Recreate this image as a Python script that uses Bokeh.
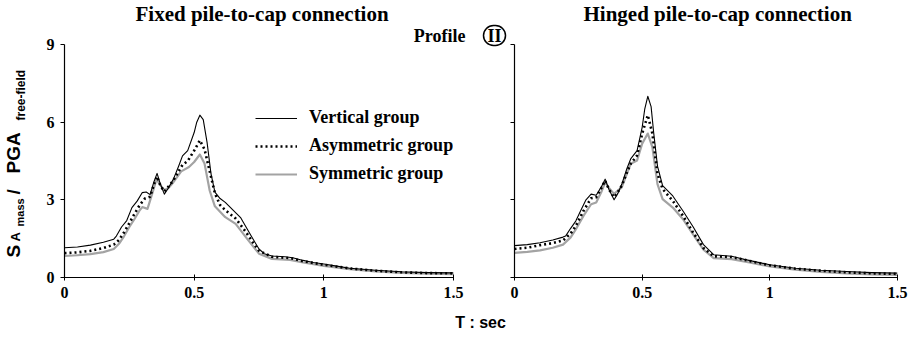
from math import pi

from bokeh.embed import file_html
from bokeh.layouts import column, row
from bokeh.models import ColumnDataSource, FixedTicker, Label, Legend, LegendItem, Range1d, Title
from bokeh.plotting import figure
from bokeh.resources import INLINE

# ---------------------------------------------------------------- data
# Period T (s) and S_A(mass) / PGA(free-field)

# Fixed pile-to-cap connection
fixed_vert_T = [0, 0.05, 0.1, 0.15, 0.19, 0.2, 0.22, 0.24, 0.26, 0.28, 0.3, 0.315, 0.33, 0.345, 0.357,
                0.37, 0.385, 0.4, 0.42, 0.44, 0.455, 0.475, 0.5, 0.51, 0.522, 0.535, 0.55, 0.565, 0.58,
                0.6, 0.62, 0.65, 0.68, 0.7, 0.72, 0.75, 0.77, 0.8, 0.85, 0.88, 0.92, 0.96, 1.0, 1.05,
                1.1, 1.2, 1.3, 1.4, 1.5]
fixed_vert_SA = [1.15, 1.18, 1.25, 1.36, 1.48, 1.6, 1.95, 2.2, 2.7, 2.95, 3.28, 3.3, 3.2, 3.7, 4.02,
                 3.6, 3.22, 3.45, 3.8, 4.3, 4.7, 4.9, 5.6, 6.0, 6.27, 6.1, 5.2, 4.0, 3.3,
                 3.05, 2.9, 2.6, 2.3, 1.95, 1.6, 1.1, 0.92, 0.83, 0.8, 0.76, 0.66, 0.58, 0.52, 0.44,
                 0.36, 0.28, 0.22, 0.19, 0.18]

fixed_asym_T = [0, 0.05, 0.1, 0.15, 0.19, 0.21, 0.23, 0.25, 0.27, 0.29, 0.31, 0.33, 0.345, 0.357,
                0.37, 0.385, 0.4, 0.42, 0.44, 0.455, 0.475, 0.5, 0.522, 0.54, 0.56, 0.58, 0.6, 0.62,
                0.66, 0.7, 0.73, 0.75, 0.8, 0.87, 0.92, 1.0, 1.1, 1.2, 1.3, 1.4, 1.5]
fixed_asym_SA = [0.94, 0.97, 1.03, 1.14, 1.27, 1.45, 1.75, 2.1, 2.46, 2.8, 3.05, 3.12, 3.6, 3.9,
                 3.55, 3.32, 3.5, 3.75, 4.1, 4.35, 4.5, 4.9, 5.3, 4.95, 4.1, 3.25, 2.8, 2.6,
                 2.28, 1.75, 1.3, 1.03, 0.8, 0.75, 0.63, 0.49, 0.35, 0.26, 0.2, 0.17, 0.16]

fixed_sym_T = [0, 0.05, 0.1, 0.15, 0.19, 0.21, 0.23, 0.25, 0.27, 0.29, 0.3, 0.32, 0.34, 0.355,
               0.37, 0.385, 0.4, 0.42, 0.45, 0.48, 0.5, 0.522, 0.54, 0.56, 0.58, 0.62, 0.66, 0.7,
               0.75, 0.8, 0.87, 0.92, 1.0, 1.1, 1.2, 1.3, 1.4, 1.5]
fixed_sym_SA = [0.83, 0.86, 0.9, 0.98, 1.1, 1.3, 1.6, 1.95, 2.26, 2.6, 2.72, 2.65, 3.3, 3.8,
                3.56, 3.38, 3.45, 3.68, 4.1, 4.27, 4.46, 4.75, 4.4, 3.35, 2.75, 2.33, 2.07, 1.55,
                0.92, 0.72, 0.68, 0.58, 0.45, 0.32, 0.24, 0.18, 0.15, 0.13]

# Hinged pile-to-cap connection
hinged_vert_T = [0, 0.05, 0.1, 0.15, 0.19, 0.2, 0.22, 0.24, 0.26, 0.28, 0.3, 0.32, 0.34, 0.355,
                 0.37, 0.39, 0.405, 0.42, 0.44, 0.455, 0.48, 0.5, 0.51, 0.522, 0.535, 0.545, 0.56,
                 0.58, 0.62, 0.66, 0.7, 0.74, 0.78, 0.85, 0.9, 1.0, 1.1, 1.2, 1.3, 1.4, 1.5]
hinged_vert_SA = [1.23, 1.27, 1.34, 1.45, 1.56, 1.6, 1.9, 2.18, 2.6, 3.0, 3.22, 3.18, 3.5, 3.8,
                  3.4, 3.0, 3.25, 3.6, 4.2, 4.58, 4.9, 5.8, 6.5, 7.0, 6.6, 5.6, 4.3,
                  3.55, 3.15, 2.57, 1.95, 1.27, 0.88, 0.82, 0.7, 0.49, 0.36, 0.28, 0.23, 0.19, 0.17]

hinged_asym_T = [0, 0.05, 0.1, 0.15, 0.19, 0.22, 0.24, 0.27, 0.3, 0.32, 0.34, 0.355, 0.37, 0.39,
                 0.405, 0.42, 0.44, 0.455, 0.48, 0.5, 0.522, 0.54, 0.56, 0.58, 0.62, 0.66, 0.7,
                 0.74, 0.78, 0.85, 0.92, 1.0, 1.1, 1.2, 1.3, 1.4, 1.5]
hinged_asym_SA = [1.1, 1.15, 1.25, 1.33, 1.43, 1.7, 1.99, 2.57, 3.06, 3.1, 3.45, 3.74, 3.4, 3.1,
                  3.3, 3.55, 4.05, 4.39, 4.71, 5.56, 6.27, 5.56, 4.0, 3.42, 2.96, 2.38, 1.73,
                  1.14, 0.82, 0.79, 0.64, 0.47, 0.34, 0.26, 0.2, 0.16, 0.14]

hinged_sym_T = [0, 0.05, 0.1, 0.15, 0.19, 0.22, 0.24, 0.27, 0.3, 0.32, 0.34, 0.355, 0.37, 0.39,
                0.42, 0.44, 0.455, 0.48, 0.5, 0.522, 0.54, 0.56, 0.58, 0.62, 0.66, 0.7, 0.74,
                0.78, 0.85, 0.92, 1.0, 1.1, 1.2, 1.3, 1.4, 1.5]
hinged_sym_SA = [0.95, 0.99, 1.05, 1.15, 1.27, 1.55, 1.86, 2.38, 2.83, 2.9, 3.3, 3.68, 3.46, 3.23,
                 3.48, 4.0, 4.39, 4.52, 5.17, 5.56, 5.04, 3.61, 3.03, 2.7, 2.25, 1.66, 1.08,
                 0.75, 0.71, 0.58, 0.43, 0.3, 0.22, 0.16, 0.12, 0.1]

series_names = ["Vertical group", "Asymmetric group", "Symmetric group"]
x_ticks = [0, 0.5, 1, 1.5]
x_tick_labels = ["0", "0.5", "1", "1.5"]
y_ticks = [0, 3, 6, 9]
y_tick_labels = ["0", "3", "6", "9"]
panel_titles = ["Fixed pile-to-cap connection", "Hinged pile-to-cap connection"]

# ---------------------------------------------------------------- styling
SERIF = "Liberation Serif"
SANS = "Liberation Sans"
STYLES = {
    "Vertical group": dict(line_color="black", line_width=1.1),
    "Asymmetric group": dict(line_color="black", line_width=2.6, line_dash="2 3"),
    "Symmetric group": dict(line_color="#a3a3a3", line_width=2.2),
}
PANEL_H = 305      # panels + tick labels; the x-axis title strip sits below
STRIP_W = 34       # strip holding the rotated y-axis title
SPLIT = 474        # x where the left panel canvas ends and the right one begins
FRAME_BOTTOM = 277 # page y of the value 0 on both panels


def blank_strip(width, height):
    s = figure(width=width, height=height, x_range=Range1d(0, 1), y_range=Range1d(0, 1),
               x_axis_type=None, y_axis_type=None, title_location=None,
               output_backend="svg", toolbar_location=None,
               min_border=0, min_border_left=0, min_border_right=0,
               min_border_top=0, min_border_bottom=0)
    s.outline_line_color = None
    s.grid.visible = False
    return s


def make_panel(width, border_left, border_right, show_y_labels):
    p = figure(width=width, height=PANEL_H, x_range=Range1d(0, 1.5), y_range=Range1d(0, 9),
               output_backend="svg", toolbar_location=None, title_location=None,
               min_border_left=border_left, min_border_right=border_right,
               min_border_top=44, min_border_bottom=PANEL_H - FRAME_BOTTOM)
    p.outline_line_color = None
    p.grid.visible = False

    xa, ya = p.xaxis[0], p.yaxis[0]
    xa.ticker = FixedTicker(ticks=x_ticks)
    xa.major_label_overrides = {t: s for t, s in zip(x_ticks, x_tick_labels)}
    ya.ticker = FixedTicker(ticks=y_ticks)
    if show_y_labels:
        ya.major_label_overrides = {t: s for t, s in zip(y_ticks, y_tick_labels)}
    else:
        ya.major_label_overrides = {t: "" for t in y_ticks}
    for ax in (xa, ya):
        ax.axis_line_color = "black"
        ax.axis_line_width = 1.2
        ax.major_tick_line_color = "black"
        ax.minor_tick_line_color = None
        ax.major_label_text_font = SERIF
        ax.major_label_text_font_style = "bold"
        ax.major_label_text_font_size = "16px"
        ax.major_label_text_color = "black"
    xa.major_tick_in = 3
    xa.major_tick_out = 3
    xa.major_label_standoff = 6
    ya.major_tick_in = 0
    ya.major_tick_out = 4
    ya.major_label_standoff = 6
    return p


def add_curves(p, data):
    rends = {}
    # grey first so the black curves sit on top
    for name in ["Symmetric group", "Asymmetric group", "Vertical group"]:
        T, SA = data[name]
        src = ColumnDataSource(dict(T=T, SA=SA))
        rends[name] = p.line("T", "SA", source=src, line_join="round", **STYLES[name])
    return rends


def title(text, size, align="left", offset=0, **extra):
    # slightly negative standoff keeps the two heading rows within the 44 px top border
    return Title(text=text, align=align, offset=offset, standoff=-2,
                 text_font=SERIF, text_font_style="bold", text_font_size=size,
                 text_color="black", **extra)


def label(p, x, y, text, font, size, angle=0.0, align="left"):
    p.add_layout(Label(x=x, y=y, x_units="screen", y_units="screen", text=text, angle=angle,
                       text_font=font, text_font_style="bold", text_font_size=size,
                       text_color="black", text_align=align, text_baseline="alphabetic"))


# ---------------------------------------------------------------- left panel
left = make_panel(SPLIT - STRIP_W, 64 - STRIP_W, SPLIT - 453, True)
left_r = add_curves(left, {
    "Vertical group": (fixed_vert_T, fixed_vert_SA),
    "Asymmetric group": (fixed_asym_T, fixed_asym_SA),
    "Symmetric group": (fixed_sym_T, fixed_sym_SA),
})
left.add_layout(title("Profile", "18px", align="right", offset=-12), "above")
left.add_layout(title(panel_titles[0], "21px", offset=71), "above")

legend = Legend(items=[LegendItem(label=n, renderers=[left_r[n]]) for n in series_names],
                location=(191, 93), orientation="vertical",
                glyph_width=42, glyph_height=20, label_height=20, label_standoff=12,
                spacing=7, padding=0, margin=0,
                border_line_color=None, background_fill_alpha=0,
                label_text_font=SERIF, label_text_font_style="bold",
                label_text_font_size="18px", label_text_color="black")
left.add_layout(legend)

# ---------------------------------------------------------------- right panel
right = make_panel(916 - SPLIT, 514 - SPLIT, 19, False)
add_curves(right, {
    "Vertical group": (hinged_vert_T, hinged_vert_SA),
    "Asymmetric group": (hinged_asym_T, hinged_asym_SA),
    "Symmetric group": (hinged_sym_T, hinged_sym_SA),
})
right.add_layout(title("II", "18px", offset=-31,
                       border_line_color="black", border_line_width=1.5,
                       padding=dict(left=4, right=4, top=0, bottom=0), border_radius=11), "above")
right.add_layout(title(panel_titles[1], "21px", offset=69), "above")

# ---------------------------------------------------------------- axis titles
# the strip's frame lines up with the panel frames, so y is measured from FRAME_BOTTOM
ystrip = blank_strip(STRIP_W, PANEL_H)
label(ystrip, 13, FRAME_BOTTOM - 257, "S", SANS, "19px", angle=pi / 2)
label(ystrip, 15, FRAME_BOTTOM - 241, "A", SANS, "13px", angle=pi / 2)
label(ystrip, 19, FRAME_BOTTOM - 226, "mass", SANS, "11px", angle=pi / 2)
label(ystrip, 13, FRAME_BOTTOM - 194, "/", SANS, "19px", angle=pi / 2)
label(ystrip, 13, FRAME_BOTTOM - 173, "PGA", SANS, "19px", angle=pi / 2)
label(ystrip, 20, FRAME_BOTTOM - 120, "free-field", SANS, "12px", angle=pi / 2)

xstrip = blank_strip(916, 337 - PANEL_H)
label(xstrip, 480, 15, "T : sec", SANS, "16px", align="center")

layout = column(row(ystrip, left, right), xstrip)
open("out.html", "w").write(file_html(layout, INLINE))
